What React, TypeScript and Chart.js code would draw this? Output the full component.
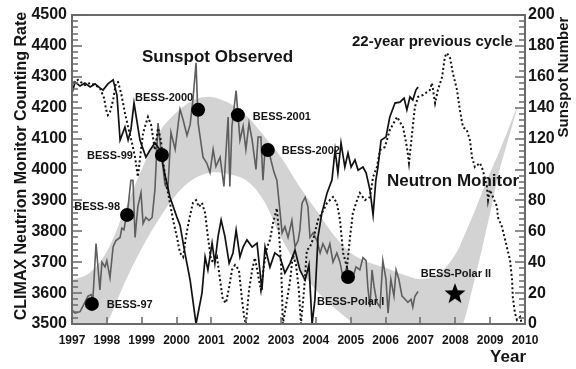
import React, { useEffect, useRef } from 'react';
import { Chart, registerables } from 'chart.js';

Chart.register(...registerables);

// ---------- data ----------
const neutronYears = [1997.0, 1997.09, 1997.23, 1997.37, 1997.52, 1997.66, 1997.8, 1997.89, 1998.03, 1998.18, 1998.29, 1998.38, 1998.52, 1998.61, 1998.69, 1998.78, 1998.95, 1999.12, 1999.24, 1999.38, 1999.53, 1999.67, 1999.81, 2000.01, 2000.1, 2000.24, 2000.39, 2000.56, 2000.73, 2000.82, 2000.9, 2001.02, 2001.1, 2001.19, 2001.28, 2001.39, 2001.51, 2001.62, 2001.71, 2001.82, 2001.91, 2002.02, 2002.17, 2002.31, 2002.45, 2002.54, 2002.68, 2002.82, 2002.97, 2003.11, 2003.26, 2003.4, 2003.54, 2003.69, 2003.8, 2003.89, 2003.97, 2004.06, 2004.17, 2004.32, 2004.46, 2004.55, 2004.63, 2004.72, 2004.83, 2004.92, 2005.01, 2005.12, 2005.21, 2005.35, 2005.44, 2005.55, 2005.64, 2005.72, 2005.78, 2005.87, 2006.01, 2006.12, 2006.27, 2006.41, 2006.53, 2006.61, 2006.7, 2006.78, 2006.87, 2006.93];
const neutronRates = [4247, 4283, 4270, 4280, 4267, 4277, 4264, 4257, 4277, 4290, 4241, 4095, 4137, 4095, 4128, 4215, 4095, 4040, 4063, 4086, 4063, 3982, 3911, 3846, 3820, 3730, 3642, 3500, 3600, 3717, 3675, 3762, 3697, 3782, 3837, 3782, 3697, 3730, 3804, 3717, 3749, 3772, 3749, 3762, 3610, 3749, 3684, 3730, 3717, 3665, 3697, 3739, 3675, 3642, 3691, 3500, 3578, 3782, 3859, 3924, 3966, 4063, 3989, 4086, 4008, 4053, 4008, 4031, 3998, 4008, 3989, 3934, 3853, 3966, 4008, 4095, 4105, 4170, 4215, 4218, 4231, 4193, 4235, 4225, 4257, 4267];

const sunspotYears = [1997.0, 1997.09, 1997.23, 1997.37, 1997.46, 1997.55, 1997.6, 1997.69, 1997.8, 1997.86, 1997.95, 1998.0, 1998.09, 1998.18, 1998.26, 1998.38, 1998.43, 1998.49, 1998.61, 1998.69, 1998.75, 1998.81, 1998.89, 1998.98, 1999.04, 1999.12, 1999.21, 1999.3, 1999.38, 1999.47, 1999.55, 1999.67, 1999.75, 1999.84, 1999.96, 2000.1, 2000.19, 2000.3, 2000.39, 2000.47, 2000.56, 2000.62, 2000.76, 2000.87, 2000.96, 2001.05, 2001.13, 2001.25, 2001.36, 2001.48, 2001.53, 2001.59, 2001.71, 2001.82, 2001.91, 2001.99, 2002.08, 2002.17, 2002.28, 2002.34, 2002.42, 2002.48, 2002.54, 2002.62, 2002.71, 2002.8, 2002.88, 2003.03, 2003.11, 2003.2, 2003.31, 2003.4, 2003.49, 2003.54, 2003.6, 2003.69, 2003.77, 2003.83, 2003.92, 2004.03, 2004.12, 2004.2, 2004.32, 2004.4, 2004.49, 2004.6, 2004.69, 2004.78, 2004.89, 2004.98, 2005.06, 2005.15, 2005.26, 2005.35, 2005.44, 2005.49, 2005.55, 2005.61, 2005.67, 2005.75, 2005.84, 2005.92, 2006.01, 2006.07, 2006.15, 2006.24, 2006.3, 2006.38, 2006.47, 2006.56, 2006.64, 2006.73, 2006.78, 2006.84, 2006.93];
const sunspotNumbers = [9, 7, 8, 14, 18, 19, 16, 52, 22, 40, 37, 41, 30, 50, 54, 56, 62, 61, 76, 93, 93, 56, 76, 85, 65, 69, 67, 69, 87, 130, 113, 90, 87, 124, 113, 139, 132, 122, 129, 145, 169, 130, 108, 104, 98, 113, 102, 108, 89, 134, 89, 128, 151, 119, 128, 113, 130, 119, 100, 121, 121, 93, 113, 115, 106, 98, 93, 59, 63, 56, 67, 50, 54, 61, 78, 82, 76, 56, 59, 54, 46, 52, 46, 52, 40, 46, 40, 30, 37, 30, 30, 37, 35, 43, 41, 24, 11, 35, 24, 14, 11, 41, 29, 7, 29, 18, 35, 29, 18, 16, 14, 16, 11, 18, 21];

const prevCycleYears = [1997.03, 1997.17, 1997.37, 1997.52, 1997.66, 1997.8, 1997.92, 1997.98, 1998.03, 1998.09, 1998.18, 1998.26, 1998.32, 1998.41, 1998.52, 1998.61, 1998.72, 1998.81, 1998.89, 1998.98, 1999.04, 1999.18, 1999.27, 1999.38, 1999.47, 1999.55, 1999.67, 1999.81, 1999.9, 2000.01, 2000.1, 2000.19, 2000.27, 2000.36, 2000.47, 2000.56, 2000.64, 2000.73, 2000.82, 2000.9, 2000.99, 2001.07, 2001.16, 2001.25, 2001.33, 2001.42, 2001.51, 2001.59, 2001.68, 2001.79, 2001.88, 2001.94, 2001.99, 2002.08, 2002.17, 2002.25, 2002.34, 2002.42, 2002.51, 2002.6, 2002.68, 2002.77, 2002.88, 2002.94, 2003.0, 2003.03, 2003.05, 2003.17, 2003.26, 2003.34, 2003.43, 2003.51, 2003.57, 2003.66, 2003.74, 2003.83, 2003.94, 2004.06, 2004.17, 2004.32, 2004.49, 2004.6, 2004.69, 2004.78, 2004.89, 2004.98, 2005.06, 2005.18, 2005.26, 2005.41, 2005.55, 2005.64, 2005.75, 2005.84, 2005.98, 2006.12, 2006.33, 2006.5, 2006.61, 2006.67, 2006.76, 2006.84, 2006.93, 2007.07, 2007.27, 2007.33, 2007.42, 2007.5, 2007.62, 2007.7, 2007.76, 2007.85, 2007.93, 2008.05, 2008.13, 2008.22, 2008.33, 2008.42, 2008.48, 2008.56, 2008.71, 2008.79, 2008.91, 2008.94, 2008.99, 2009.08, 2009.2, 2009.22, 2009.34, 2009.48, 2009.57, 2009.63, 2009.65, 2009.71, 2009.77, 2009.86, 2009.91];
const prevCycleRates = [4280, 4290, 4273, 4280, 4273, 4264, 4231, 4193, 4176, 4186, 4225, 4280, 4283, 4247, 4183, 4137, 4086, 4040, 3976, 4063, 4118, 4170, 4144, 4063, 4134, 4095, 3976, 3892, 3837, 3782, 3730, 3717, 3782, 3837, 3892, 3901, 3879, 3892, 3859, 3782, 3707, 3700, 3717, 3642, 3578, 3568, 3620, 3675, 3691, 3675, 3578, 3523, 3500, 3610, 3675, 3714, 3659, 3610, 3691, 3749, 3772, 3827, 3875, 3794, 3691, 3587, 3500, 3578, 3642, 3723, 3691, 3610, 3500, 3610, 3739, 3749, 3782, 3837, 3859, 3892, 3911, 3892, 3837, 3730, 3684, 3782, 3859, 3901, 3924, 3901, 3911, 3976, 4008, 4063, 4073, 4128, 4170, 4137, 4073, 4021, 4118, 4202, 4235, 4241, 4257, 4280, 4215, 4257, 4299, 4364, 4377, 4361, 4312, 4257, 4193, 4137, 4128, 4095, 4040, 4008, 4021, 3998, 3943, 3901, 3934, 3911, 3879, 3846, 3814, 3749, 3707, 3642, 3587, 3536, 3513, 3523, 3500];

const bandYears = [1997.0, 1997.5, 1998.0, 1998.5, 1999.0, 1999.5, 2000.0, 2000.5, 2001.0, 2001.5, 2002.0, 2002.5, 2003.0, 2003.5, 2004.0, 2004.5, 2005.0, 2005.5, 2006.0, 2006.5, 2007.0, 2007.5, 2008.0, 2008.25, 2008.5, 2008.75, 2009.0, 2009.25, 2009.5, 2009.77];
const bandUpper = [3642, 3665, 3735, 3865, 4000, 4120, 4185, 4225, 4235, 4215, 4175, 4110, 4040, 3950, 3870, 3790, 3730, 3700, 3682, 3660, 3645, 3660, 3725, 3785, 3850, 3920, 3990, 4055, 4125, 4202];
const bandLower = [3300, 3400, 3500, 3630, 3745, 3840, 3920, 3970, 3990, 3985, 3965, 3900, 3780, 3685, 3610, 3555, 3508, 3450, 3400, 3380, 3370, 3390, 3450, 3510, 3620, 3735, 3860, 3990, 4090, 4195];

const bessLabels = ['BESS-97', 'BESS-98', 'BESS-99', 'BESS-2000', 'BESS-2001', 'BESS-2002', 'BESS-Polar I'];
const bessYears = [1997.57, 1998.58, 1999.58, 2000.62, 2001.76, 2002.62, 2004.92];
const bessRates = [3565, 3853, 4047, 4193, 4176, 4063, 3652];

const polarIILabel = 'BESS-Polar II';
const polarIIYears = [2007.99];
const polarIIRates = [3600];

const xTickValues = [1997, 1998, 1999, 2000, 2001, 2002, 2003, 2004, 2005, 2006, 2007, 2008, 2009, 2010];
const leftTickValues = [3500, 3600, 3700, 3800, 3900, 4000, 4100, 4200, 4300, 4400, 4500];
const rightTickValues = [0, 20, 40, 60, 80, 100, 120, 140, 160, 180, 200];

// ---------- styles (label placement, not data) ----------
const bessLabelPlacement = [
  { dx: 15, dy: 1, align: 'left' },
  { dx: -7, dy: -8, align: 'right' },
  { dx: -29, dy: 1, align: 'right' },
  { dx: -5, dy: -12, align: 'right' },
  { dx: 15, dy: 2, align: 'left' },
  { dx: 14, dy: 1, align: 'left' },
  { dx: -31, dy: 25, align: 'left' },
];

const FONT = '"Liberation Sans", Arial, Helvetica, sans-serif';
const TEXT = '#151515';
const AXIS = '#6a6a6a';

function xy(xs: number[], ys: number[]) {
  return xs.map((x, i) => ({ x, y: ys[i] }));
}

function makeStar(size: number): HTMLCanvasElement {
  const c = document.createElement('canvas');
  c.width = size;
  c.height = size;
  const g = c.getContext('2d')!;
  const cx = size / 2, cy = size / 2 + 1;
  const R = size / 2, r = R * 0.42;
  g.beginPath();
  for (let i = 0; i < 10; i++) {
    const rad = i % 2 === 0 ? R : r;
    const a = -Math.PI / 2 + (i * Math.PI) / 5;
    const px = cx + rad * Math.cos(a);
    const py = cy + rad * Math.sin(a);
    if (i === 0) g.moveTo(px, py); else g.lineTo(px, py);
  }
  g.closePath();
  g.fillStyle = '#000';
  g.fill();
  return c;
}

const decorPlugin = {
  id: 'decor',
  afterDraw(chart: any) {
    const ctx: CanvasRenderingContext2D = chart.ctx;
    const sx = chart.scales.x, sy = chart.scales.y, sy2 = chart.scales.y2;
    const L = sx.getPixelForValue(xTickValues[0]);
    const R = sx.getPixelForValue(xTickValues[xTickValues.length - 1]);
    const T = sy.getPixelForValue(leftTickValues[leftTickValues.length - 1]);
    const B = sy.getPixelForValue(leftTickValues[0]);

    // ---- frame and inward tick marks ----
    ctx.save();
    ctx.setLineDash([]);
    ctx.globalAlpha = 1;
    ctx.fillStyle = AXIS;
    ctx.fillRect(L - 1, T - 1, R - L + 2, 2);
    ctx.fillRect(L - 1, B - 1, R - L + 2, 2);
    ctx.fillRect(L - 1, T - 1, 2, B - T + 2);
    ctx.fillRect(R - 1, T - 1, 2, B - T + 2);

    const hTick = (x: number, y: number, len: number) => {
      ctx.fillRect(len > 0 ? x : x + len, Math.round(y) - 0.75, Math.abs(len), 1.5);
    };
    for (let i = 0; i < leftTickValues.length; i++) {
      const v = leftTickValues[i];
      hTick(L, sy.getPixelForValue(v), 10);
      if (i < leftTickValues.length - 1) {
        const step = (leftTickValues[i + 1] - v) / 5;
        for (let k = 1; k < 5; k++) hTick(L, sy.getPixelForValue(v + k * step), 6);
      }
    }
    for (let i = 0; i < rightTickValues.length; i++) {
      const v = rightTickValues[i];
      hTick(R, sy2.getPixelForValue(v), -10);
      if (i < rightTickValues.length - 1) {
        const step = (rightTickValues[i + 1] - v) / 5;
        for (let k = 1; k < 5; k++) hTick(R, sy2.getPixelForValue(v + k * step), -6);
      }
    }
    for (const v of xTickValues) {
      const px = Math.round(sx.getPixelForValue(v));
      ctx.fillRect(px - 0.75, B - 7, 1.5, 7);
    }
    ctx.restore();

    // ---- texts ----
    ctx.save();
    ctx.fillStyle = TEXT;
    ctx.textBaseline = 'middle';
    ctx.font = `bold 11px ${FONT}`;
    bessLabels.forEach((lab, i) => {
      const p = bessLabelPlacement[i];
      const px = sx.getPixelForValue(bessYears[i]) + p.dx;
      const py = sy.getPixelForValue(bessRates[i]) + p.dy;
      ctx.textAlign = p.align as CanvasTextAlign;
      ctx.fillText(lab, px, py);
    });
    ctx.textAlign = 'center';
    ctx.fillText(polarIILabel, sx.getPixelForValue(polarIIYears[0]) + 1, sy.getPixelForValue(polarIIRates[0]) - 19);

    ctx.textAlign = 'left';
    ctx.font = `bold 17px ${FONT}`;
    ctx.fillText('Sunspot Observed', 142, 57);
    ctx.fillText('Neutron Monitor', 387, 181);
    ctx.font = `bold 15px ${FONT}`;
    ctx.fillText('22-year previous cycle', 352, 42);

    ctx.font = `bold 17px ${FONT}`;
    ctx.textAlign = 'right';
    ctx.fillText('Year', 526, 357);

    ctx.font = `bold 16px ${FONT}`;
    ctx.textAlign = 'center';
    ctx.save();
    ctx.translate(22, 166);
    ctx.rotate(-Math.PI / 2);
    ctx.fillText('CLIMAX Neutrion Monitor Counting Rate', 0, 0);
    ctx.restore();

    ctx.font = `bold 15px ${FONT}`;
    ctx.save();
    ctx.translate(564, 77);
    ctx.rotate(-Math.PI / 2);
    ctx.fillText('Sunspot Number', 0, 0);
    ctx.restore();

    ctx.restore();
  },
};

export default function App() {
  const ref = useRef<HTMLCanvasElement | null>(null);

  useEffect(() => {
    const canvas = ref.current;
    if (!canvas) return;
    const star = makeStar(22);

    const chart = new Chart(canvas, {
      type: 'line',
      data: {
        datasets: [
          { label: 'band lower', data: xy(bandYears, bandLower), borderWidth: 0, pointRadius: 0, fill: false, tension: 0.35, order: 11 } as any,
          { label: 'band upper', data: xy(bandYears, bandUpper), borderWidth: 0, pointRadius: 0, backgroundColor: 'rgb(211,211,211)', fill: '-1', tension: 0.35, order: 10 } as any,
          { label: 'Sunspot Observed', data: xy(sunspotYears, sunspotNumbers), yAxisID: 'y2', borderColor: '#5e5e5e', borderWidth: 1.6, pointRadius: 0, fill: false, tension: 0, order: 3 } as any,
          { label: '22-year previous cycle', data: xy(prevCycleYears, prevCycleRates), borderColor: '#111', borderWidth: 2, borderDash: [2, 2.5], pointRadius: 0, fill: false, tension: 0, order: 2 } as any,
          { label: 'Neutron Monitor', data: xy(neutronYears, neutronRates), borderColor: '#111', borderWidth: 1.7, pointRadius: 0, fill: false, tension: 0, order: 1 } as any,
          { label: 'BESS', data: xy(bessYears, bessRates), showLine: false, pointRadius: 7, pointBackgroundColor: '#000', pointBorderColor: '#000', borderWidth: 0, order: 0 } as any,
          { label: 'BESS-Polar II', data: xy(polarIIYears, polarIIRates), showLine: false, pointStyle: star, pointRadius: 11, order: 0 } as any,
        ],
      },
      options: {
        responsive: false,
        maintainAspectRatio: false,
        devicePixelRatio: 1,
        animation: false,
        events: [],
        layout: { padding: { top: 15, left: 0, right: 0, bottom: 0 } },
        plugins: {
          legend: { display: false },
          tooltip: { enabled: false },
          filler: { drawTime: 'beforeDatasetsDraw' },
        } as any,
        scales: {
          x: {
            type: 'linear', min: 1997, max: 2010,
            grid: { display: false, drawTicks: false },
            border: { display: true, color: AXIS, width: 2 },
            afterBuildTicks: (s: any) => { s.ticks = xTickValues.map((v) => ({ value: v })); },
            afterFit: (s: any) => { s.height = 45; },
            ticks: { autoSkip: false, maxRotation: 0, padding: 9, color: TEXT, font: { family: FONT, size: 12, weight: 'bold' }, callback: (v: any) => String(v) },
          },
          y: {
            type: 'linear', position: 'left', min: 3500, max: 4500,
            grid: { display: false, drawTicks: false },
            border: { display: true, color: AXIS, width: 2 },
            afterBuildTicks: (s: any) => { s.ticks = leftTickValues.map((v) => ({ value: v })); },
            afterFit: (s: any) => { s.width = 72; },
            ticks: { autoSkip: false, padding: 5, color: TEXT, font: { family: FONT, size: 16, weight: 'bold' }, callback: (v: any) => String(v) },
          },
          y2: {
            type: 'linear', position: 'right', min: 0, max: 200,
            grid: { display: false, drawTicks: false },
            border: { display: true, color: AXIS, width: 2 },
            afterBuildTicks: (s: any) => { s.ticks = rightTickValues.map((v) => ({ value: v })); },
            afterFit: (s: any) => { s.width = 51; },
            ticks: { autoSkip: false, padding: 3, color: TEXT, font: { family: FONT, size: 16, weight: 'bold' }, callback: (v: any) => String(v) },
          },
        },
      } as any,
      plugins: [decorPlugin],
    });

    return () => chart.destroy();
  }, []);

  return (
    <div style={{ position: 'fixed', left: 0, top: 0, width: 576, height: 369, background: '#fff' }}>
      <canvas ref={ref} width={576} height={369} style={{ display: 'block', width: 576, height: 369 }} />
    </div>
  );
}
